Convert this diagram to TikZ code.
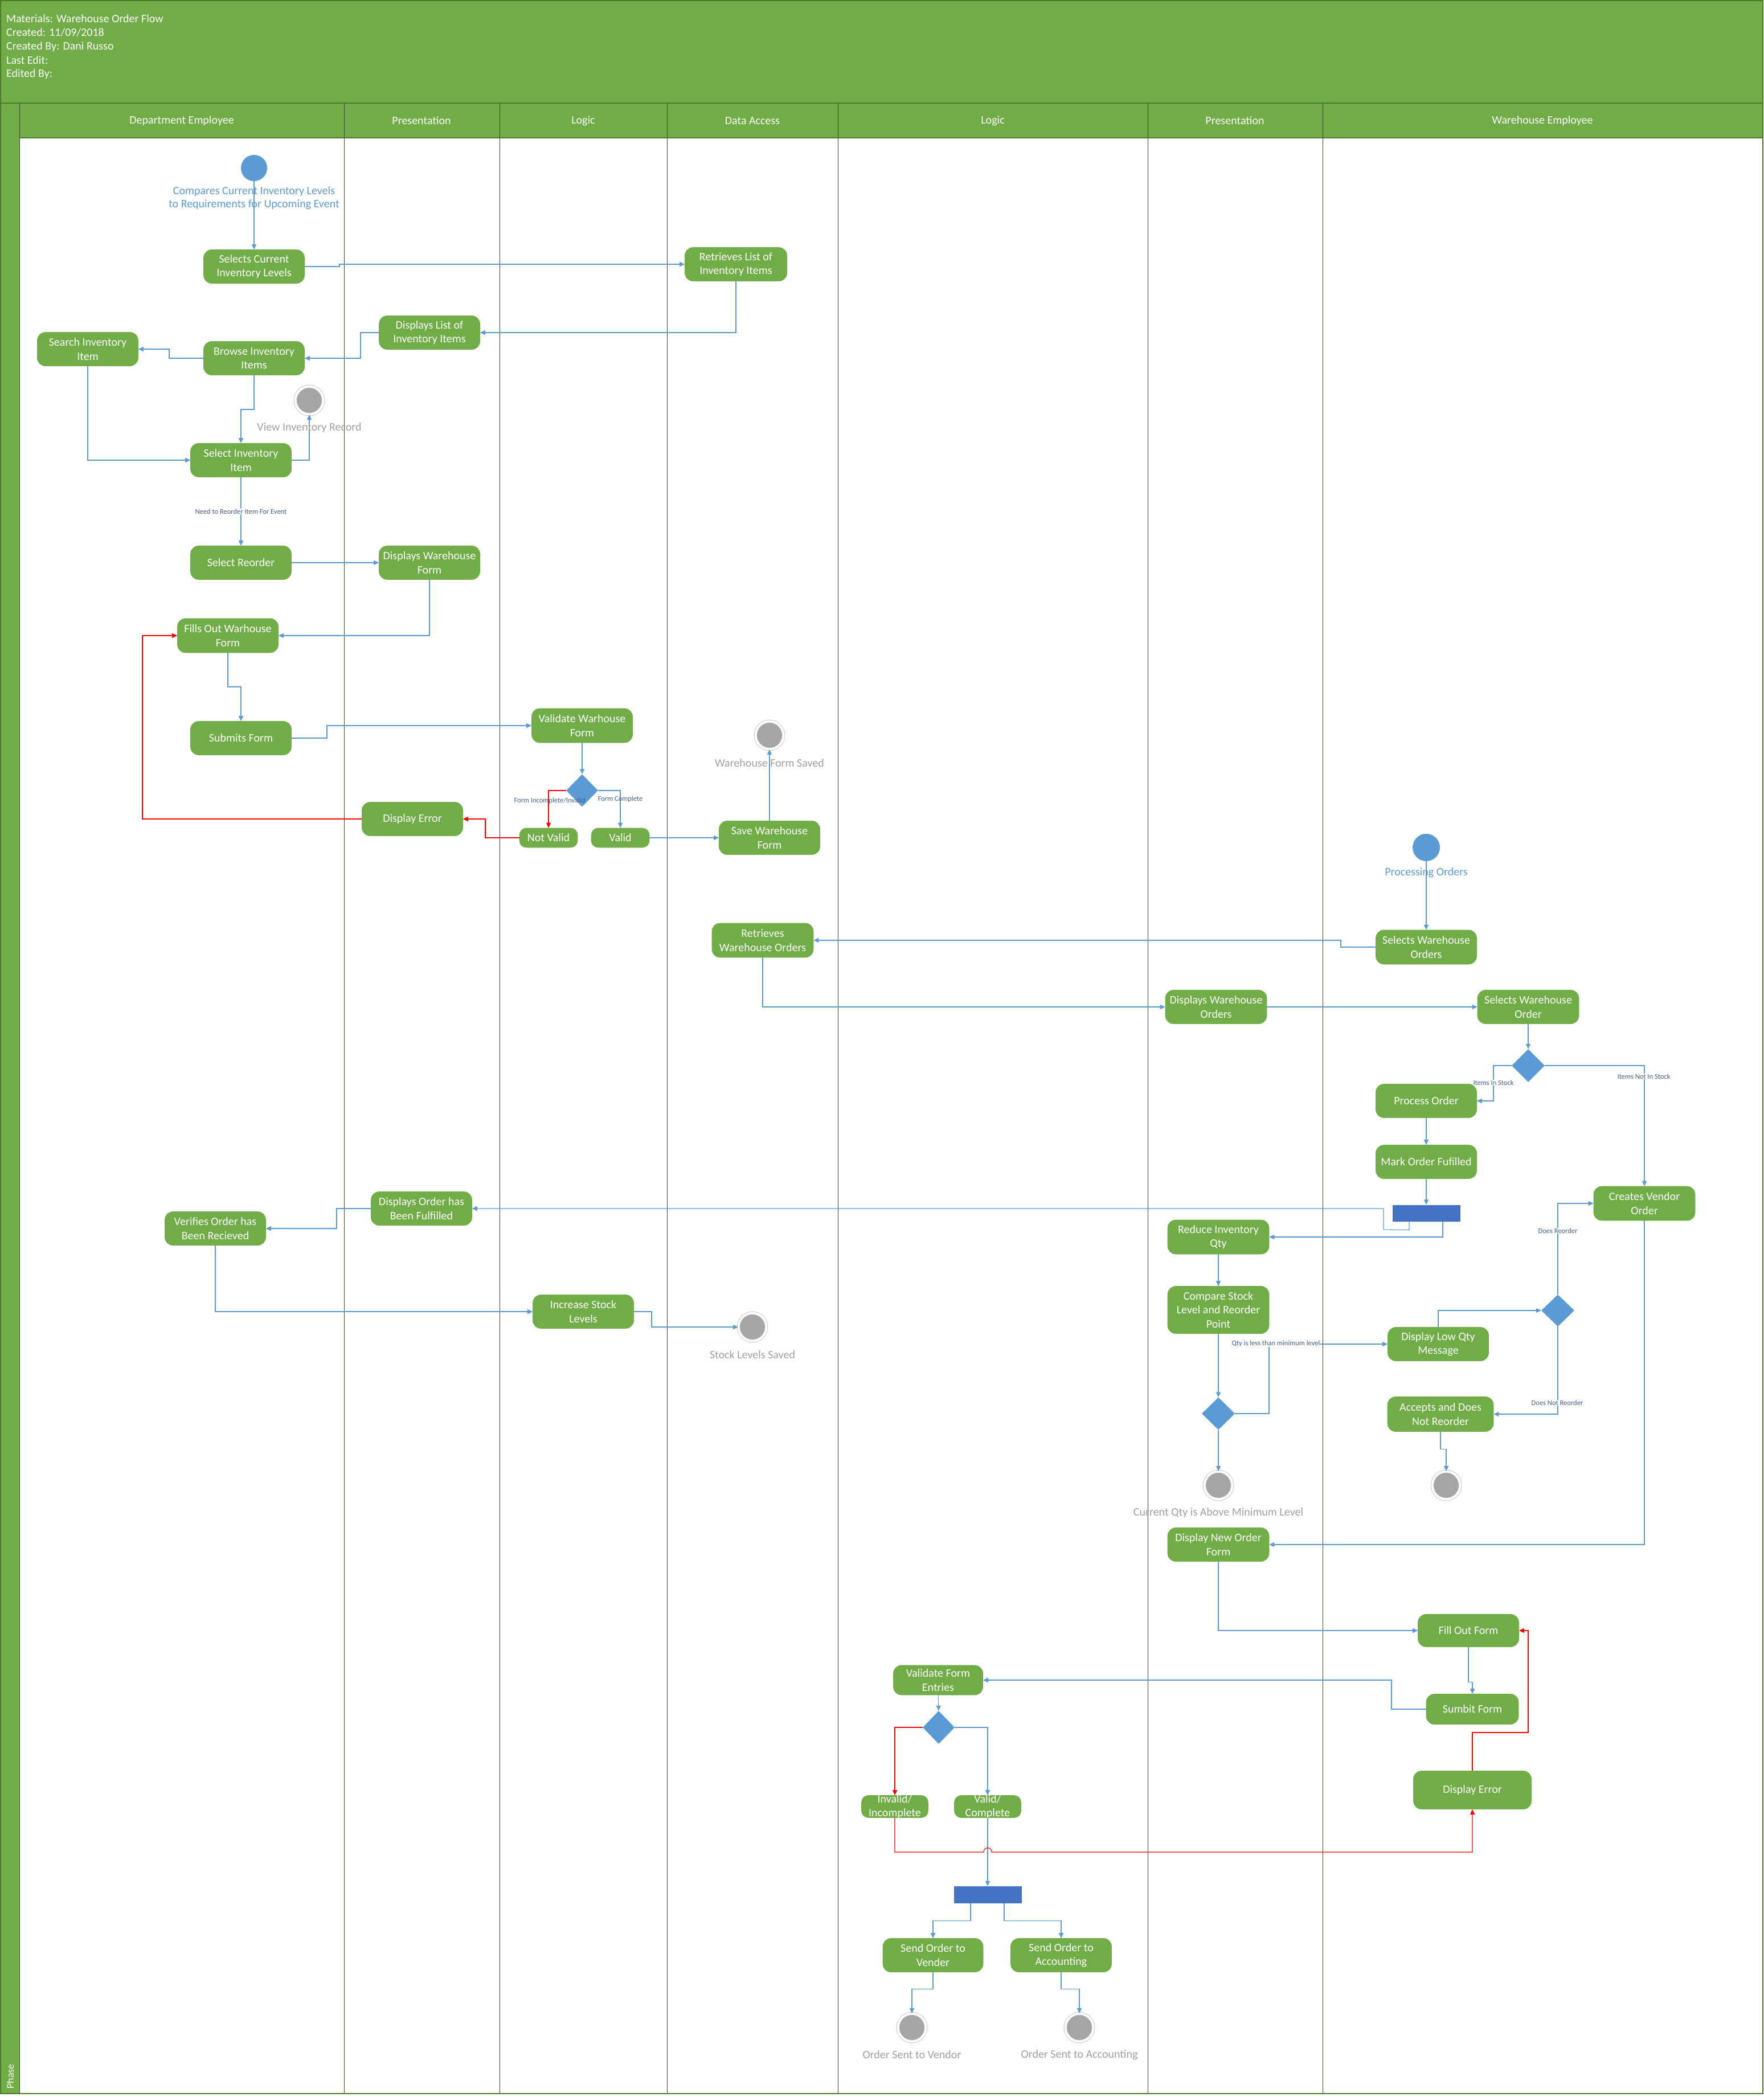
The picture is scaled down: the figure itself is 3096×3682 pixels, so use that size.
\documentclass[tikz,border=0pt]{standalone}
\usepackage{fontspec}
\setmainfont{Carlito}
\usetikzlibrary{arrows.meta,shapes.geometric,calc}
\definecolor{ngreen}{HTML}{70AD47}
\definecolor{hdark}{HTML}{4F7A2E}
\definecolor{lanec}{HTML}{394B2A}
\definecolor{lblue}{HTML}{5B9BD5}
\definecolor{barblue}{HTML}{4472C4}
\definecolor{egray}{HTML}{A5A5A5}
\definecolor{ering}{HTML}{BFBFBF}
\definecolor{lgray}{HTML}{A0A0A0}
\definecolor{snavy}{HTML}{44608A}
\definecolor{ered}{HTML}{FF0000}
\newcommand\myNodeFont{\fontsize{20}{24.5}\selectfont}
\newcommand\mySmallFont{\fontsize{12.5}{15}\selectfont}
\begin{document}
\begin{tikzpicture}[x=1pt,y=-1pt,
  act/.style={rectangle, rounded corners=14pt, fill=ngreen, draw=ngreen, line width=0.6pt,
    text=white, align=center, font=\myNodeFont, inner sep=0pt, minimum width=177pt, minimum height=59pt},
  startc/.style={circle, fill=lblue, minimum size=46pt, inner sep=0pt},
  endc/.style={circle, fill=egray, draw=ering, double=white, double distance=4pt, line width=0.8pt,
    minimum size=49pt, inner sep=0pt},
  dec/.style={diamond, aspect=1, fill=lblue, minimum width=58pt, minimum height=58pt, inner sep=0pt},
  forkbar/.style={rectangle, fill=barblue, minimum width=119pt, minimum height=29pt, inner sep=0pt},
  conn/.style={draw=lblue, line width=1.1pt, -{Triangle[length=9pt,width=8pt]}},
  errc/.style={draw=ered, line width=1.1pt, -{Triangle[length=9pt,width=8pt]}},
  glbl/.style={text=lgray, font=\myNodeFont, inner sep=0pt},
  blbl/.style={text=lblue, font=\fontsize{20}{23}\selectfont, align=center, inner sep=0pt},
  slbl/.style={text=snavy, font=\mySmallFont, fill=white, inner sep=1pt},
  slblnf/.style={text=snavy, font=\mySmallFont, inner sep=1pt},
  lanelbl/.style={text=white, font=\myNodeFont, inner sep=0pt},
  hdrlbl/.style={text=white, font=\myNodeFont, anchor=west, inner sep=0pt},
  lanel/.style={draw=lanec, line width=1pt}
]
\useasboundingbox (0,0) rectangle (3096,3682);
% ---------- frame, header, lanes ----------
\fill[ngreen] (0,0) rectangle (3096,242);
\fill[ngreen] (0,242) rectangle (34,3676);
\draw[hdark, line width=2pt] (0,181) -- (3096,181);
\draw[hdark, line width=1.2pt] (34,242) -- (3096,242);
\foreach \lx in {34,604,877,1171,1471,2015,2322} {\draw[lanel] (\lx,181) -- (\lx,3676);}
\draw[hdark, line width=2pt] (1,1) rectangle (3095,3676);
\node[hdrlbl] (h1) at (11,33) {Materials: Warehouse Order Flow};
\node[hdrlbl] (h2) at (11,57) {Created: 11/09/2018};
\node[hdrlbl] (h3) at (11,82) {Created By: Dani Russo};
\node[hdrlbl] (h4) at (11,106) {Last Edit:};
\node[hdrlbl] (h5) at (11,130) {Edited By:};
\node[lanelbl] (l1) at (319,212) {Department Employee};
\node[lanelbl] (l2) at (740,212) {Presentation};
\node[lanelbl] (l3) at (1024,212) {Logic};
\node[lanelbl] (l4) at (1321,212) {Data Access};
\node[lanelbl] (l5) at (1743,212) {Logic};
\node[lanelbl] (l6) at (2168,212) {Presentation};
\node[lanelbl] (l7) at (2708,212) {Warehouse Employee};
\node[text=white, font=\fontsize{18}{20}\selectfont, rotate=90, inner sep=0pt] (ph) at (18,3646) {Phase};
% ---------- nodes ----------
\node[startc] (s1) at (446,295) {};
\node[act] (sci) at (446,468) {Selects Current\\Inventory Levels};
\node[act] (sii) at (154,613) {Search Inventory\\Item};
\node[act] (bii) at (446,629) {Browse Inventory\\Items};
\node[endc] (vir) at (543,703) {};
\node[act] (sel) at (423,808) {Select Inventory\\Item};
\node[act] (sro) at (423,988) {Select Reorder};
\node[act, minimum height=60pt] (fow) at (400,1116) {Fills Out Warhouse\\Form};
\node[act] (sbf) at (423,1296) {Submits Form};
\node[act] (ver) at (378,2157) {Verifies Order has\\Been Recieved};
\node[act] (dli) at (754,584) {Displays List of\\Inventory Items};
\node[act] (dwf) at (754,988) {Displays Warehouse\\Form};
\node[act] (de1) at (724,1438) {Display Error};
\node[act] (dof) at (740,2122) {Displays Order has\\Been Fulfilled};
\node[act, minimum height=60pt] (vwf) at (1022,1274) {Validate Warhouse\\Form};
\node[dec, minimum width=56pt, minimum height=57pt] (d1) at (1022,1388) {};
\node[act, minimum width=102pt, minimum height=34pt, rounded corners=12pt] (nv) at (963,1471) {Not Valid};
\node[act, minimum width=102pt, minimum height=34pt, rounded corners=12pt] (va) at (1089,1471) {Valid};
\node[act] (isl) at (1024,2303) {Increase Stock\\Levels};
\node[act, minimum width=179pt] (rli) at (1292,464) {Retrieves List of\\Inventory Items};
\node[act] (swf) at (1351,1471) {Save Warehouse\\Form};
\node[endc] (e2) at (1351,1291) {};
\node[act, minimum width=178pt, minimum height=60pt] (rwo) at (1339,1651) {Retrieves\\Warehouse Orders};
\node[endc] (e7) at (1321,2330) {};
\node[act, minimum width=157pt, minimum height=52pt] (vfe) at (1647,2950) {Validate Form\\Entries};
\node[dec, minimum width=56pt] (d5) at (1648,3033) {};
\node[act, minimum width=117pt, minimum height=39pt, rounded corners=12pt] (inv) at (1571,3172) {};
\node[text=white, font=\myNodeFont, align=center, inner sep=0pt] (invt) at (inv.center) {Invalid/\\Incomplete};
\node[act, minimum width=117pt, minimum height=39pt, rounded corners=12pt] (vc) at (1734,3172) {};
\node[text=white, font=\myNodeFont, align=center, inner sep=0pt] (vct) at (vc.center) {Valid/\\Complete};
\node[forkbar, minimum height=30pt] (bar2) at (1734,3327) {};
\node[act, minimum width=176pt] (sov) at (1638,3433) {Send Order to\\Vender};
\node[act] (soa) at (1863,3433) {Send Order to\\Accounting};
\node[endc] (e5) at (1601,3560) {};
\node[endc] (e6) at (1895,3560) {};
\node[act, minimum width=178pt] (dwo) at (2135,1768) {Displays Warehouse\\Orders};
\node[act, minimum width=178pt, minimum height=60pt] (rqi) at (2139,2172) {Reduce Inventory\\Qty};
\node[act, minimum width=178pt, minimum height=83pt] (csl) at (2139,2300) {Compare Stock\\Level and Reorder\\Point};
\node[dec, minimum height=57pt] (d3) at (2139,2482) {};
\node[endc] (e3) at (2139,2608) {};
\node[act, minimum width=178pt] (dno) at (2139,2712) {Display New Order\\Form};
\node[startc, minimum size=48pt] (s2) at (2504,1488) {};
\node[act, minimum height=60pt] (swos) at (2504,1663) {Selects Warehouse\\Orders};
\node[act, minimum width=178pt] (swo) at (2683,1768) {Selects Warehouse\\Order};
\node[dec] (d2) at (2683,1871) {};
\node[act] (po) at (2504,1933) {Process Order};
\node[act] (mof) at (2504,2040) {Mark Order Fufilled};
\node[forkbar] (bar1) at (2504,2130) {};
\node[act, minimum width=178pt, minimum height=60pt] (cvo) at (2887,2113) {Creates Vendor\\Order};
\node[act] (dlq) at (2525,2360) {Display Low Qty\\Message};
\node[dec, minimum height=56pt] (d4) at (2735,2301) {};
\node[act, minimum width=186pt, minimum height=61pt] (adn) at (2529,2483) {Accepts and Does\\Not Reorder};
\node[endc] (e4) at (2539,2608) {};
\node[act, minimum height=57pt] (fof) at (2578,2863) {Fill Out Form};
\node[act, minimum width=162pt, minimum height=53pt] (sub) at (2585,3001) {Sumbit Form};
\node[act, minimum width=207pt, minimum height=67pt] (de2) at (2585,3143) {Display Error};
% ---------- connectors ----------
\draw[conn] (s1.south) -- (sci.north);
\draw[conn] (sci.east) -- (596,468) |- (rli.west);
\draw[conn] (rli.south) |- (dli.east);
\draw[conn] (dli.west) -- (633,584) |- (bii.east);
\draw[conn] (bii.west) -- (297,629) |- (sii.east);
\draw[conn] (bii.south) -- (446,719) -| (sel.north);
\draw[conn] (sii.south) |- (sel.west);
\draw[conn] (sel.east) -| (vir.south);
\draw[conn] (sel.south) -- node[slbl] (lb1) {Need to Reorder Item For Event} (sro.north);
\draw[conn] (sro.east) -- (dwf.west);
\draw[conn] (dwf.south) |- (fow.east);
\draw[conn] (fow.south) -- (400,1206) -| (sbf.north);
\draw[conn] (sbf.east) -- (574,1296) |- (vwf.west);
\draw[conn] (vwf.south) -- (d1.north);
\draw[errc] (d1.west) -| (nv.north);
\draw[conn] (d1.east) -| (va.north);
\draw[errc] (nv.west) -- (852,1471) |- (de1.east);
\draw[errc] (de1.west) -- (250,1438) |- (fow.west);
\draw[conn] (va.east) -- (swf.west);
\draw[conn] (swf.north) -- (e2.south);
\draw[conn] (s2.south) -- (swos.north);
\draw[conn] (swos.west) -- (2354,1663) |- (rwo.east);
\draw[conn] (rwo.south) |- (dwo.west);
\draw[conn] (dwo.east) -- (swo.west);
\draw[conn] (swo.south) -- (d2.north);
\draw[conn] (d2.west) -- (2622,1871) |- (po.east);
\draw[conn] (d2.east) -| (cvo.north);
\draw[conn] (po.south) -- (mof.north);
\draw[conn] (mof.south) -- (bar1.north);
\draw[conn] ($(bar1.south)+(-30,0)$) -- ++(0,15) -- (2429,2159) |- (dof.east);
\draw[conn] ($(bar1.south)+(29,0)$) |- (rqi.east);
\draw[conn] (rqi.south) -- (csl.north);
\draw[conn] (csl.south) -- (d3.north);
\draw[conn] (d3.east) -- (2228,2482) |- (dlq.west);
\draw[conn] (d3.south) -- (e3.north);
\draw[conn] (dlq.north) |- (d4.west);
\draw[conn] (d4.north) |- (cvo.west);
\draw[conn] (d4.south) |- (adn.east);
\draw[conn] (adn.south) -- ++(0,31) -| (e4.north);
\draw[conn] (cvo.south) |- (dno.east);
\draw[conn] (dno.south) |- (fof.west);
\draw[conn] (fof.south) -- ++(0,62) -| (sub.north);
\draw[conn] (sub.west) -- (2443,3001) |- (vfe.east);
\draw[conn] (vfe.south) -- (d5.north);
\draw[errc] (d5.west) -| (inv.north);
\draw[conn] (d5.east) -| (vc.north);
\draw[conn] (vc.south) -- (bar2.north);
\draw[errc] (inv.south) -- (1571,3252) -- (1727,3252) .. controls (1727,3242) and (1741,3242) .. (1741,3252) -| (de2.south);
\draw[errc] (de2.north) |- (2683,3042) |- (fof.east);
\draw[conn] ($(bar2.south)+(-30,0)$) -- ++(0,30) -| (sov.north);
\draw[conn] ($(bar2.south)+(29,0)$) -- ++(0,30) -| (soa.north);
\draw[conn] (sov.south) -- ++(0,30) -| (e5.north);
\draw[conn] (soa.south) -- ++(0,30) -| (e6.north);
\draw[conn] (dof.west) -- (591,2122) |- (ver.east);
\draw[conn] (ver.south) |- (isl.west);
\draw[conn] (isl.east) -- (1144,2303) |- (e7.west);
% ---------- connector labels ----------
\node[slblnf] (lb2) at (965,1406) {Form Incomplete/Invalid};
\node[slblnf] (lb3) at (1089,1403) {Form Complete};
\node[slbl] (lb4) at (2622,1901) {Items In Stock};
\node[slbl] (lb5) at (2886,1890) {Items Not In Stock};
\node[slbl] (lb6) at (2240,2359) {Qty is less than minimum level};
\node[slbl] (lb7) at (2735,2161) {Does Reorder};
\node[slbl] (lb8) at (2734,2463) {Does Not Reorder};
% ---------- start / end labels ----------
\node[blbl] (t1) at (446,348) {Compares Current Inventory Levels\\to Requirements for Upcoming Event};
\node[blbl] (t2) at (2504,1532) {Processing Orders};
\node[glbl] (t3) at (543,751) {View Inventory Record};
\node[glbl] (t4) at (1351,1340) {Warehouse Form Saved};
\node[glbl] (t5) at (1321,2379) {Stock Levels Saved};
\node[glbl] (t6) at (2139,2656) {Current Qty is Above Minimum Level};
\node[glbl] (t7) at (1601,3608) {Order Sent to Vendor};
\node[glbl] (t8) at (1895,3608) {Order Sent to Accounting};
\end{tikzpicture}
\end{document}
